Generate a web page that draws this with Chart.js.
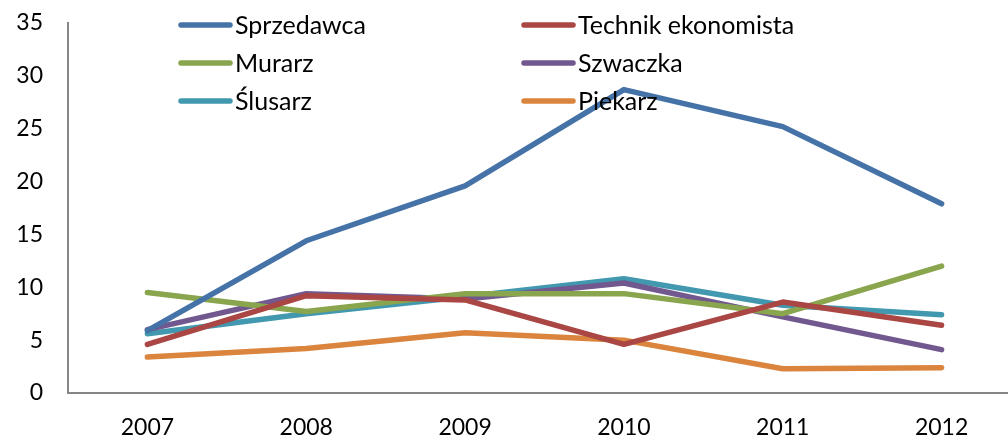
<!DOCTYPE html>
<html>
<head>
<meta charset="utf-8">
<script src="https://cdn.jsdelivr.net/npm/chart.js@4/dist/chart.umd.min.js"></script>
<style>
  html, body { margin: 0; padding: 0; background: #fff; overflow: hidden; }
  #wrap { width: 1008px; height: 437px; overflow: hidden; }
</style>
</head>
<body>
<div id="wrap"><canvas id="chart" width="1021" height="437"></canvas></div>
<script>
const years = ['2007', '2008', '2009', '2010', '2011', '2012'];

const sprzedawca = [5.9, 14.4, 19.6, 28.7, 25.2, 17.9];
const technikEkonomista = [4.6, 9.2, 8.8, 4.6, 8.6, 6.4];
const murarz = [9.5, 7.7, 9.4, 9.4, 7.5, 12.0];
const szwaczka = [6.0, 9.4, 8.9, 10.4, 7.2, 4.1];
const slusarz = [5.6, 7.5, 9.1, 10.8, 8.3, 7.4];
const piekarz = [3.4, 4.2, 5.7, 5.0, 2.3, 2.4];

const yTicks = [0, 5, 10, 15, 20, 25, 30, 35];

const FONT = 'Lato, "Open Sans", sans-serif';

function series(label, data, color) {
  return {
    label, data,
    borderColor: color,
    backgroundColor: color,
    borderWidth: 5.5,
    pointRadius: 0,
    tension: 0,
    borderCapStyle: 'round',
    borderJoinStyle: 'round'
  };
}

// legend: two columns, three rows, drawn over the plot
const legendPlugin = {
  id: 'sideLegend',
  afterDraw(chart) {
    const ctx = chart.ctx;
    const cols = [181, 524];
    const rows = [25, 63, 101];
    ctx.save();
    ctx.font = '25px ' + FONT;
    ctx.textBaseline = 'middle';
    ctx.fillStyle = '#000';
    chart.data.datasets.forEach((ds, i) => {
      const x = cols[i % 2];
      const y = rows[Math.floor(i / 2)];
      ctx.strokeStyle = ds.borderColor;
      ctx.lineWidth = 5.5;
      ctx.lineCap = 'round';
      ctx.beginPath();
      ctx.moveTo(x, y);
      ctx.lineTo(x + 49, y);
      ctx.stroke();
      ctx.fillText(ds.label, x + 54, y + 1);
    });
    ctx.restore();
  }
};

new Chart(document.getElementById('chart'), {
  type: 'line',
  data: {
    labels: years,
    datasets: [
      series('Sprzedawca', sprzedawca, '#4572A7'),
      series('Technik ekonomista', technikEkonomista, '#AA4643'),
      series('Murarz', murarz, '#89A54E'),
      series('Szwaczka', szwaczka, '#71588F'),
      series('Ślusarz', slusarz, '#4198AF'),
      series('Piekarz', piekarz, '#DB843D')
    ]
  },
  options: {
    responsive: false,
    animation: false,
    layout: { padding: { top: 23, left: 0, right: 0, bottom: 0 } },
    plugins: {
      legend: { display: false },
      tooltip: { enabled: false }
    },
    scales: {
      x: {
        offset: true,
        grid: { display: false, drawTicks: false },
        border: { display: true, color: '#868686', width: 2 },
        ticks: { color: '#000', font: { family: FONT, size: 23 }, padding: 21, maxRotation: 0 },
        afterFit(scale) { scale.height = 44; }
      },
      y: {
        min: 0,
        max: 35,
        grid: { display: false, drawTicks: false },
        border: { display: true, color: '#868686', width: 2 },
        afterBuildTicks(scale) { scale.ticks = yTicks.map(v => ({ value: v })); },
        ticks: { color: '#000', font: { family: FONT, size: 23 }, padding: 25 },
        afterFit(scale) {
          scale.width = 68;
          scale.paddingTop = 0;
          scale.paddingBottom = 0;
        }
      }
    }
  },
  plugins: [legendPlugin]
});
</script>
</body>
</html>
